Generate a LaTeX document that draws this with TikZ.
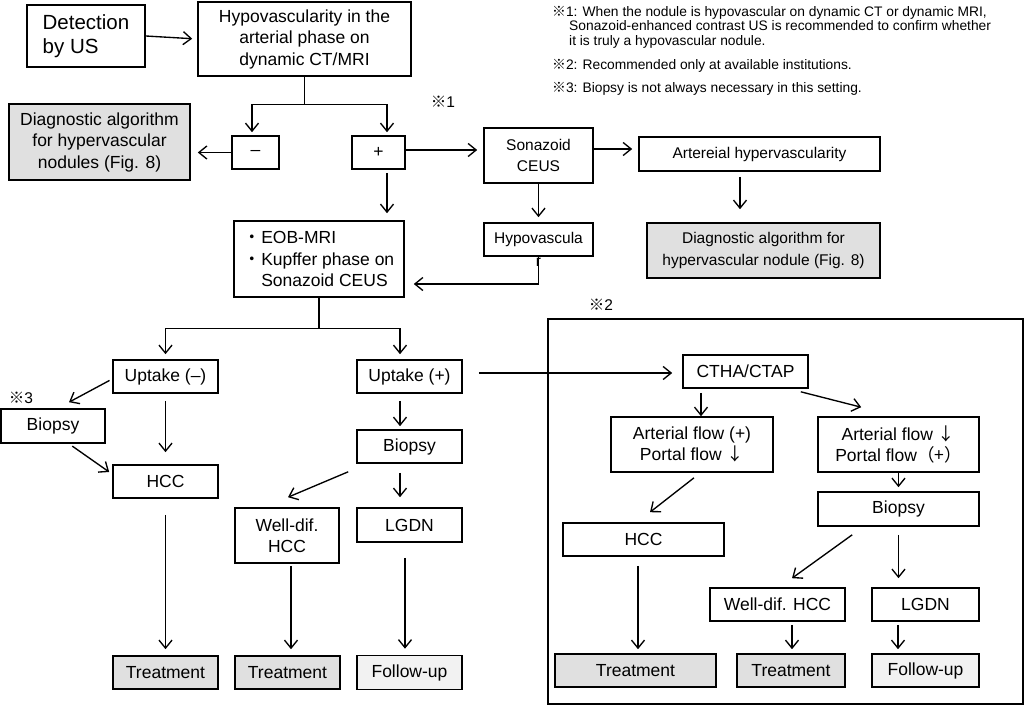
\documentclass[tikz,border=0pt]{standalone}
\usepackage{fontspec}
\setmainfont{Liberation Sans}
\newfontfamily\cjk{Noto Sans CJK JP}
\usetikzlibrary{arrows.meta}
\definecolor{boxgray}{RGB}{224,224,224}
\definecolor{followgray}{RGB}{242,242,242}
\newcommand{\kome}{{\cjk ※}}
\newcommand{\dnarrow}{{\cjk ↓}}
\tikzset{
  box/.style={draw, line width=1.6pt, align=center, inner sep=0pt, font=\fontsize{17.5}{21.5}\selectfont},
  smallbox/.style={box, font=\fontsize{15.5}{21.5}\selectfont},
  graybox/.style={box, fill=boxgray},
  followbox/.style={box, fill=followgray},
  note/.style={anchor=base west, inner sep=0pt, font=\fontsize{13.8}{14.5}\selectfont},
  mark label/.style={inner sep=0pt, font=\fontsize{15.5}{18}\selectfont},
  flow/.style={->, line width=1.35pt},
  >={Straight Barb[length=8pt,width=13pt]},
}

\begin{document}
\begin{tikzpicture}[x=1pt, y=-1pt]
\useasboundingbox (0,0) rectangle (1025,706);

\node[box, align=left, font=\fontsize{20.5}{24.5}\selectfont, minimum width=118pt, minimum height=62pt] (det) at (86,36) {Detection\\by US};
\node[box, minimum width=213pt, minimum height=74pt] (hypo) at (304.5,39) {Hypovascularity in the\\arterial phase on\\dynamic CT/MRI};
\node[graybox, minimum width=181pt, minimum height=76pt] (dgl) at (99.5,142) {Diagnostic algorithm\\for hypervascular\\nodules (Fig. 8)};
\node[box, minimum width=47pt, minimum height=33pt] (minus) at (255.5,152.5) {--};
\node[box, minimum width=53pt, minimum height=33pt] (plus) at (378.5,152.5) {+};
\node[smallbox, minimum width=109pt, minimum height=55pt] (son) at (538.5,155.5) {Sonazoid\\CEUS};
\node[smallbox, minimum width=241pt, minimum height=34pt] (art) at (759.5,154) {Artereial hypervascularity};
\node[smallbox, fill=boxgray, minimum width=233pt, minimum height=55pt] (dgr) at (763.5,250.5) {Diagnostic algorithm for\\hypervascular nodule (Fig. 8)};
\node[smallbox, minimum width=109pt, minimum height=33pt] (hyp) at (538.5,239.5) {Hypovascula};
\node[mark label] (hypr) at (538.5,262) {r};
\node[box, align=left, minimum width=170pt, minimum height=76pt] (eob) at (319,259) {{\cjk ・}EOB-MRI\\{\cjk ・}Kupffer phase on\\\phantom{\cjk ・}Sonazoid CEUS};

\node[box, minimum width=105pt, minimum height=33pt] (upm) at (165.5,376.5) {Uptake (--)};
\node[box, minimum width=105pt, minimum height=33pt] (upp) at (409.5,376.5) {Uptake (+)};
\node[box, minimum width=104pt, minimum height=34pt] (bxl) at (53,426) {Biopsy};
\node[box, minimum width=105pt, minimum height=33pt] (hccl) at (165.5,481.5) {HCC};
\node[box, minimum width=105pt, minimum height=33pt] (bxm) at (409.5,446.5) {Biopsy};
\node[box, minimum width=104pt, minimum height=55pt] (wdl) at (287,535.5) {Well-dif.\\HCC};
\node[box, minimum width=105pt, minimum height=34pt] (lgl) at (409.5,525) {LGDN};
\node[graybox, minimum width=105pt, minimum height=33pt] (trl1) at (165.5,672.5) {Treatment};
\node[graybox, minimum width=105pt, minimum height=33pt] (trl2) at (287.5,672.5) {Treatment};
\node[followbox, minimum width=105pt, minimum height=34pt] (ful) at (409.5,672.5) {Follow-up};

\draw[line width=1.6pt] (548,319) rectangle (1023,704);
\node[box, minimum width=125pt, minimum height=33pt] (ctha) at (745.5,371.5) {CTHA/CTAP};
\node[box, minimum width=162pt, minimum height=55pt] (afp) at (692,444.5) {Arterial flow (+)\\Portal flow \dnarrow};
\node[box, minimum width=161pt, minimum height=55pt] (afd) at (898.5,444.5) {Arterial flow \dnarrow\\Portal flow{\cjk （+）}};
\node[box, minimum width=161pt, minimum height=34pt] (bxr) at (898.5,509) {Biopsy};
\node[box, minimum width=161pt, minimum height=33pt] (hccr) at (643.5,539.5) {HCC};
\node[graybox, minimum width=161pt, minimum height=33pt] (trr1) at (635.5,670.5) {Treatment};
\node[box, minimum width=135pt, minimum height=33pt] (wdr) at (777.5,604.5) {Well-dif. HCC};
\node[box, minimum width=107pt, minimum height=33pt] (lgr) at (925.5,604.5) {LGDN};
\node[graybox, minimum width=108pt, minimum height=33pt] (trr2) at (791,670.5) {Treatment};
\node[followbox, minimum width=107pt, minimum height=33pt] (fur) at (925.5,670.5) {Follow-up};

\node[mark label] (k1) at (443,102) {\kome 1};
\node[mark label] (k2) at (601,305) {\kome 2};
\node[mark label] (k3) at (21,398) {\kome 3};

\node[note, align=left, anchor=north west] (n1) at (552,6) {\kome 1: When the nodule is hypovascular on dynamic CT or dynamic MRI,\\\hspace*{17pt}Sonazoid-enhanced contrast US is recommended to confirm whether\\\hspace*{17pt}it is truly a hypovascular nodule.};
\node[note] (n2) at (552,70) {\kome 2: Recommended only at available institutions.};
\node[note] (n3) at (552,93) {\kome 3: Biopsy is not always necessary in this setting.};

\draw[flow, shorten >=5pt] (det.east) -- (hypo.west);
\draw[line width=1.35pt] (hypo.south) -- ++(0,28) coordinate (jhypo);
\draw[flow, shorten >=3pt] (jhypo) -| ([xshift=-3.5pt]minus.north);
\draw[flow, shorten >=3pt] (jhypo) -| ([xshift=8.5pt]plus.north);
\draw[flow, shorten >=7pt] (minus.west) -- (minus.west -| dgl.east);
\draw[flow, shorten <=3pt, shorten >=7pt] ([xshift=8.5pt]plus.south) -- ([xshift=8.5pt]plus.south |- eob.north);
\draw[flow, shorten >=6pt] ([yshift=2.5pt]plus.east) -- ([yshift=2.5pt]plus.east -| son.west);
\draw[flow, shorten >=6pt] ([yshift=6.5pt]son.east) -- ([yshift=6.5pt]son.east -| art.west);
\draw[flow, shorten <=5pt, shorten >=13pt] ([xshift=-19.5pt]art.south) -- ([xshift=-19.5pt]art.south |- dgr.north);
\draw[flow, shorten >=5pt] (son.south) -- (hyp.north);
\draw[flow, shorten >=9pt] (hyp.south) |- ([yshift=-25pt]eob.east);

\draw[line width=1.35pt] (eob.south) -- ++(0,31) coordinate (jeob);
\draw[flow, shorten >=5pt] (jeob) -| (upm.north);
\draw[flow, shorten >=5pt] (jeob) -| ([xshift=-9.5pt]upp.north);
\draw[flow, shorten <=3pt] ([yshift=-2.5pt]upm.west) -- ([xshift=16pt,yshift=6pt]bxl.north);
\draw[flow, shorten <=4pt] ([xshift=16pt]bxl.south) -- ([xshift=-3pt,yshift=9.5pt]hccl.west);
\draw[flow, shorten <=7pt, shorten >=12pt] (upm.south) -- (hccl.north);
\draw[flow, shorten <=16pt, shorten >=6pt] (hccl.south) -- (trl1.north);
\draw[flow, shorten <=7pt, shorten >=3pt] ([xshift=-9.5pt]upp.south) -- ([xshift=-9.5pt]upp.south |- bxm.north);
\draw[flow, shorten <=9pt, shorten >=10pt] ([xshift=-9.5pt]bxm.south) -- ([xshift=-9.5pt]bxm.south |- lgl.north);
\draw[flow] ([xshift=-8pt,yshift=-8pt]bxm.south west) -- ([xshift=1pt,yshift=10pt]wdl.north);
\draw[flow, shorten <=2pt, shorten >=6pt] ([xshift=4pt]wdl.south) -- ([xshift=4pt]wdl.south |- trl2.north);
\draw[flow, shorten <=15pt, shorten >=6pt] ([xshift=-4.5pt]lgl.south) -- ([xshift=-4.5pt]lgl.south |- ful.north);
\draw[flow, shorten <=16pt, shorten >=10pt] ([yshift=3.5pt]upp.east) -- ([yshift=3.5pt]upp.east -| ctha.west);

\draw[flow, shorten <=4pt] ([xshift=-44.5pt]ctha.south) -- ([xshift=-44.5pt]ctha.south |- afp.north);
\draw[flow] ([xshift=-8pt,yshift=-3pt]ctha.south east) -- ([xshift=44pt,yshift=9pt]afd.north west);
\draw[flow, shorten >=4pt] (afd.south) -- (bxr.north);
\draw[flow] ([xshift=2pt,yshift=-5pt]afp.south) -- ([xshift=6.5pt,yshift=10pt]hccr.north);
\draw[flow, shorten <=9pt, shorten >=4pt] ([xshift=-5.5pt]hccr.south) -- ([xshift=-5.5pt]hccr.south |- trr1.north);
\draw[flow] ([xshift=35pt,yshift=-8pt]bxr.south west) -- ([xshift=14.5pt,yshift=9pt]wdr.north);
\draw[flow, shorten <=8pt, shorten >=9pt] (bxr.south) -- (bxr.south |- lgr.north);
\draw[flow, shorten <=3pt, shorten >=4pt] ([xshift=14.5pt]wdr.south) -- ([xshift=14.5pt]wdr.south |- trr2.north);
\draw[flow, shorten <=3pt, shorten >=4pt] ([xshift=-27.5pt]lgr.south) -- ([xshift=-27.5pt]lgr.south |- fur.north);
\end{tikzpicture}
\end{document}
